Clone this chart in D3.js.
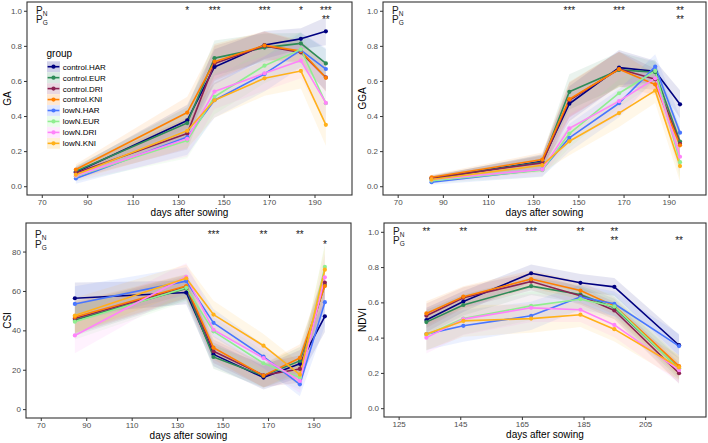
<!DOCTYPE html>
<html><head><meta charset="utf-8">
<script src="https://cdn.jsdelivr.net/npm/d3@7"></script>
<style>
html,body{margin:0;padding:0;background:#fff;}
svg{display:block;font-family:"Liberation Sans",Arial,sans-serif;}
</style></head>
<body><svg id="chart" width="708" height="443"></svg>
<script>
// ---------- data ----------
const groups = ["control.HAR","control.EUR","control.DRI","control.KNI","lowN.HAR","lowN.EUR","lowN.DRI","lowN.KNI"];
const groupColors = ["#000080","#2E8B57","#8B2252","#FF7F00","#4876FF","#90EE90","#FF83FA","#FFB11A"];

const daysTop = [85,134,146,168,184,195];
const daysNDVI = [134,146,168,184,195,216];
const ticksTopX = [70,90,110,130,150,170,190];
const ticksNDVIX = [125,145,165,185,205];
const ticksUnitY = [0,0.2,0.4,0.6,0.8,1.0];
const ticksCSIY = [0,20,40,60,80];

const gaValues = [
  [0.080,0.375,0.680,0.805,0.840,0.883],
  [0.085,0.360,0.730,0.790,0.814,0.700],
  [0.076,0.300,0.700,0.800,0.763,0.620],
  [0.095,0.420,0.710,0.803,0.770,0.618],
  [0.044,0.280,0.490,0.640,0.776,0.668],
  [0.057,0.260,0.510,0.687,0.780,0.473],
  [0.060,0.270,0.540,0.644,0.716,0.475],
  [0.066,0.316,0.490,0.615,0.657,0.350]
];
const ggaValues = [
  [0.042,0.142,0.470,0.676,0.655,0.467],
  [0.045,0.138,0.538,0.663,0.650,0.255],
  [0.047,0.133,0.490,0.668,0.610,0.242],
  [0.051,0.152,0.496,0.667,0.580,0.233],
  [0.023,0.095,0.276,0.473,0.682,0.305],
  [0.032,0.091,0.300,0.530,0.657,0.137],
  [0.038,0.095,0.330,0.485,0.615,0.168],
  [0.038,0.120,0.256,0.417,0.545,0.115]
];
const csiValues = [
  [56.3,59.2,27.8,16.0,23.0,47.1],
  [45.3,61.3,26.5,16.9,24.5,63.0],
  [46.0,62.1,29.4,17.2,20.4,64.2],
  [46.8,62.5,31.2,17.0,26.0,62.5],
  [53.4,65.0,43.8,26.7,12.6,54.3],
  [44.4,61.6,39.5,23.3,16.0,72.2],
  [37.4,67.2,40.3,25.9,14.3,66.9],
  [47.5,66.4,48.0,32.2,17.5,70.8]
];
const ndviValues = [
  [0.500,0.605,0.765,0.711,0.688,0.357],
  [0.488,0.585,0.692,0.645,0.570,0.225],
  [0.524,0.626,0.718,0.637,0.554,0.198],
  [0.537,0.632,0.732,0.667,0.580,0.238],
  [0.420,0.467,0.524,0.630,0.592,0.352],
  [0.415,0.508,0.580,0.618,0.577,0.222],
  [0.400,0.505,0.569,0.558,0.472,0.216],
  [0.420,0.495,0.508,0.530,0.448,0.231]
];
// ribbon half-widths (control, lowN)
const gaSdControl = [0.03,0.09,0.10,0.08,0.06,0.08];
const gaSdLowN    = [0.03,0.10,0.10,0.10,0.10,0.12];
const ggaSdControl = [0.015,0.04,0.10,0.10,0.06,0.08];
const ggaSdLowN    = [0.015,0.04,0.08,0.08,0.07,0.09];
const csiSdControl = [8,6,6,6,7,8];
const csiSdLowN    = [9,7,7,6,6,12];
const ndviSdControl = [0.07,0.06,0.05,0.05,0.05,0.06];
const ndviSdLowN    = [0.09,0.09,0.08,0.07,0.07,0.07];

// significance
const gaSigX = [134,146,168,184,195];
const gaSigN = ["*","***","***","*","***"];
const gaSigG = ["","","","","**"];
const ggaSigX = [146,168,195];
const ggaSigN = ["***","***","**"];
const ggaSigG = ["","","**"];
const csiSigX = [146,168,184,195];
const csiSigN = ["***","**","**",""];
const csiSigG = ["","","","*"];
const ndviSigX = [134,146,168,184,195,216];
const ndviSigN = ["**","**","***","**","**",""];
const ndviSigG = ["","","","","**","**"];

// ---------- layout ----------
const svg = d3.select("#chart");
const panels = [
  {label:"GA", values:gaValues, days:daysTop, sdC:gaSdControl, sdL:gaSdLowN, sigX:gaSigX, sigN:gaSigN, sigG:gaSigG,
   box:[27,2,352,195], xd:[63.5,206.5], yd:[-0.05,1.05], xt:ticksTopX, yt:ticksUnitY, fmt:d3.format(".1f"), rows:[1.0,0.95], ylab:7, legend:true},
  {label:"GGA", values:ggaValues, days:daysTop, sdC:ggaSdControl, sdL:ggaSdLowN, sigX:ggaSigX, sigN:ggaSigN, sigG:ggaSigG,
   box:[383,2,706,195], xd:[63.5,206.5], yd:[-0.05,1.05], xt:ticksTopX, yt:ticksUnitY, fmt:d3.format(".1f"), rows:[1.0,0.95], ylab:362},
  {label:"CSI", values:csiValues, days:daysTop, sdC:csiSdControl, sdL:csiSdLowN, sigX:csiSigX, sigN:csiSigN, sigG:csiSigG,
   box:[26,223,351,418], xd:[63.5,206.5], yd:[-4.5,94.5], xt:ticksTopX, yt:ticksCSIY, fmt:d3.format("d"), rows:[88.5,83.5], ylab:7},
  {label:"NDVI", values:ndviValues, days:daysNDVI, sdC:ndviSdControl, sdL:ndviSdLowN, sigX:ndviSigX, sigN:ndviSigN, sigG:ndviSigG,
   box:[384,223,706,417], xd:[120.25,224.75], yd:[-0.05,1.05], xt:ticksNDVIX, yt:ticksUnitY, fmt:d3.format(".1f"), rows:[1.0,0.95], ylab:362}
];

panels.forEach(p => {
  const [l,t,r,b] = p.box;
  const x = d3.scaleLinear().domain(p.xd).range([l,r]);
  const y = d3.scaleLinear().domain(p.yd).range([b,t]);
  const g = svg.append("g");

  // ribbons
  const area = d3.area().x(d=>x(d.x)).y0(d=>y(d.lo)).y1(d=>y(d.hi));
  p.values.forEach((vals,i) => {
    const sd = i < 4 ? p.sdC : p.sdL;
    const pts = vals.map((v,j)=>({x:p.days[j], lo:v-sd[j], hi:v+sd[j]}));
    g.append("path").attr("d", area(pts)).attr("fill", groupColors[i]).attr("fill-opacity", 0.1);
  });
  // lines
  const line = d3.line().x(d=>x(d.x)).y(d=>y(d.v));
  p.values.forEach((vals,i) => {
    const pts = vals.map((v,j)=>({x:p.days[j], v:v}));
    g.append("path").attr("d", line(pts)).attr("fill","none").attr("stroke", groupColors[i]).attr("stroke-width", 1.6).attr("stroke-linejoin","round");
  });
  p.values.forEach((vals,i) => {
    g.selectAll(null).data(vals).enter().append("circle")
      .attr("cx",(v,j)=>x(p.days[j])).attr("cy",v=>y(v)).attr("r",2.1).attr("fill",groupColors[i]);
  });

  // border
  g.append("rect").attr("x",l).attr("y",t).attr("width",r-l).attr("height",b-t)
    .attr("fill","none").attr("stroke","#333333").attr("stroke-width",1.1);

  // axes
  const xa = g.append("g").attr("transform",`translate(0,${b})`)
    .call(d3.axisBottom(x).tickValues(p.xt).tickSize(3).tickPadding(1).tickFormat(d3.format("d")));
  const ya = g.append("g").attr("transform",`translate(${l},0)`)
    .call(d3.axisLeft(y).tickValues(p.yt).tickSize(3).tickPadding(2).tickFormat(p.fmt));
  [xa,ya].forEach(a=>{
    a.select(".domain").remove();
    a.selectAll(".tick line").attr("stroke","#333333");
    a.selectAll(".tick text").attr("fill","#4D4D4D").style("font-size","8px").style("font-family","Liberation Sans, Arial, sans-serif");
  });

  // axis titles
  g.append("text").attr("x",(l+r)/2).attr("y",b+20.5).attr("text-anchor","middle")
    .style("font-size","10px").attr("fill","#000").text("days after sowing");
  g.append("text").attr("transform",`translate(${p.ylab+3.5},${(t+b)/2}) rotate(-90)`).attr("text-anchor","middle")
    .style("font-size","10px").attr("fill","#000").text(p.label);

  // P labels
  const pl = [["P","N",p.rows[0]],["P","G",p.rows[1]]];
  pl.forEach(([P,sub,rv])=>{
    const tx = g.append("text").attr("x",l+9).attr("y",y(rv)+3.4).style("font-size","10px").attr("fill","#1a1a1a");
    tx.append("tspan").text(P);
    tx.append("tspan").attr("dy",1.6).style("font-size","6.5px").text(sub);
  });
  // asterisks
  p.sigX.forEach((sx,k)=>{
    [[p.sigN[k],p.rows[0]],[p.sigG[k],p.rows[1]]].forEach(([s,rv])=>{
      if(!s) return;
      g.append("text").attr("x",x(sx)).attr("y",y(rv)+3.4).attr("text-anchor","middle")
        .style("font-size","10px").attr("fill","#1a1a1a").text(s);
    });
  });

  // legend
  if (p.legend) {
    const lg = g.append("g");
    lg.append("text").attr("x",46.5).attr("y",57).style("font-size","10px").attr("fill","#000").text("group");
    groups.forEach((gr,i)=>{
      const cy = 66.7 + i*10.95;
      lg.append("rect").attr("x",47).attr("y",cy-5.4).attr("width",13).attr("height",10.8)
        .attr("fill",groupColors[i]).attr("fill-opacity",0.18);
      lg.append("line").attr("x1",47.6).attr("x2",59.4).attr("y1",cy).attr("y2",cy)
        .attr("stroke",groupColors[i]).attr("stroke-width",1.6);
      lg.append("circle").attr("cx",53.5).attr("cy",cy).attr("r",2.1).attr("fill",groupColors[i]);
      lg.append("text").attr("x",62.7).attr("y",cy+2.9).style("font-size","8px").attr("fill","#000").text(gr);
    });
  }
});
</script>
</body></html>
